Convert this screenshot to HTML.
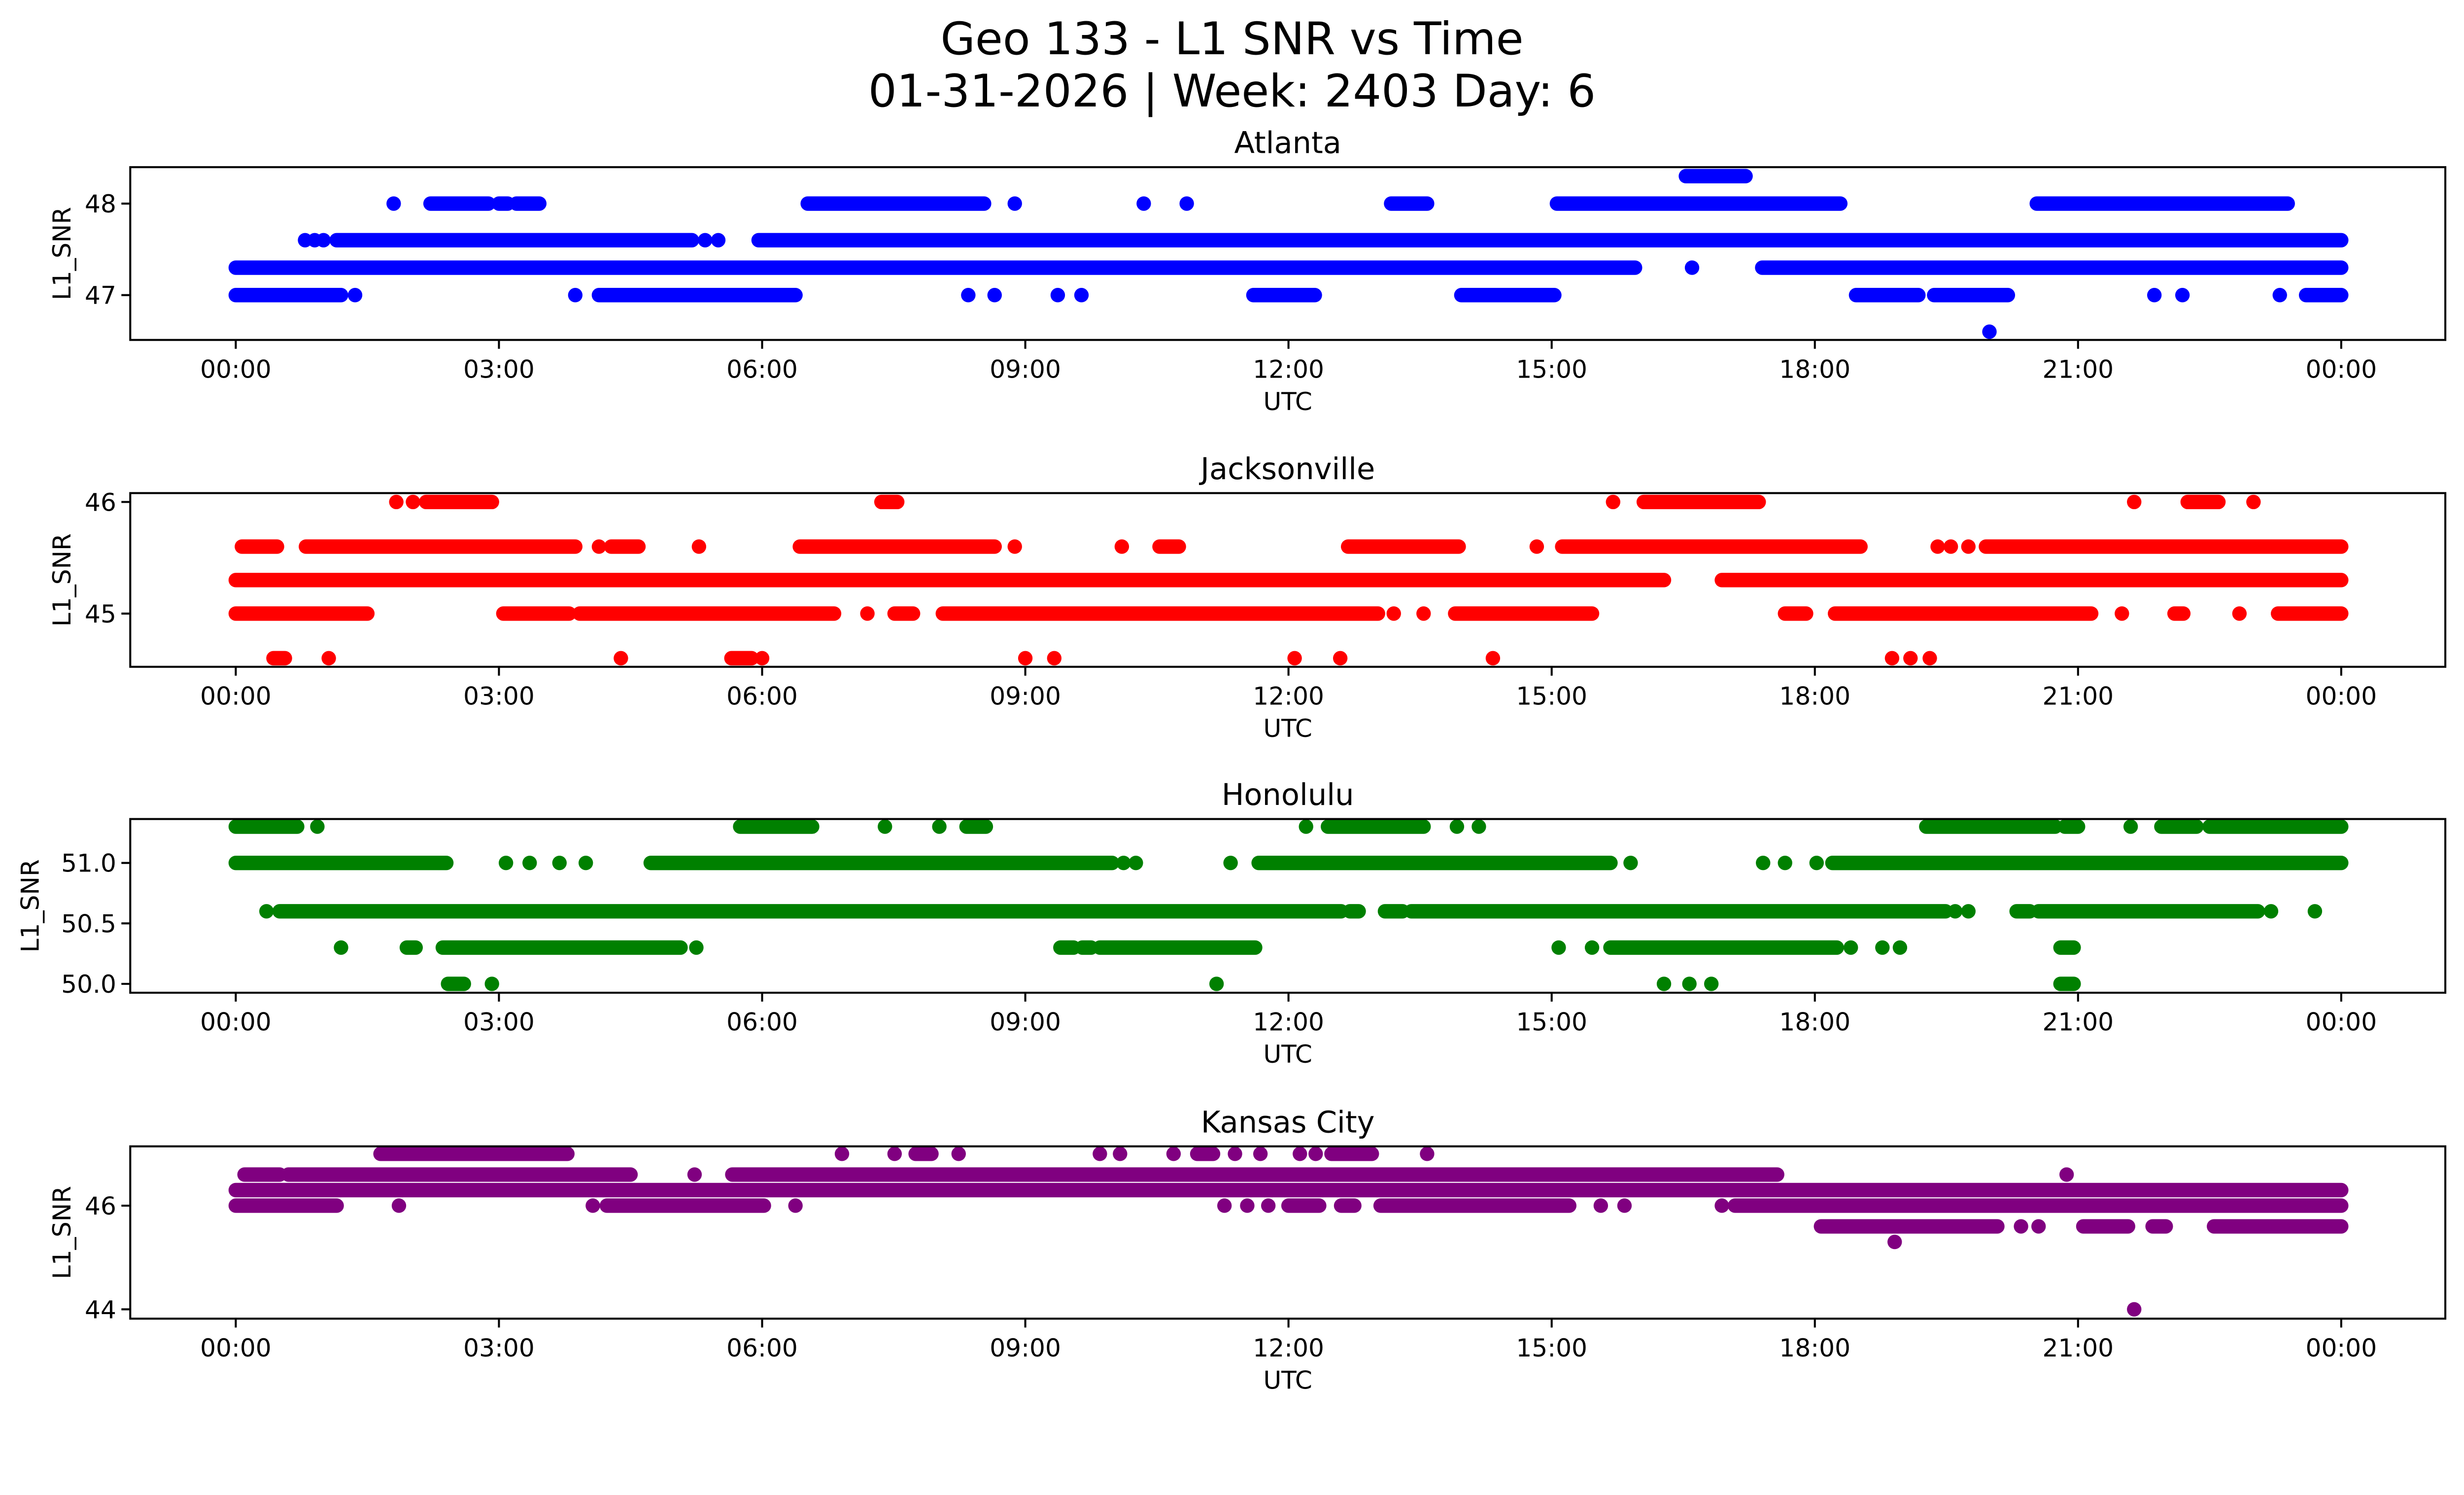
<!DOCTYPE html>
<html><head><meta charset="utf-8">
<style>
html,body{margin:0;padding:0;background:#fff;overflow:hidden;}
svg{display:block;width:100vw;height:auto;font-family:"DejaVu Sans","Liberation Sans",sans-serif;}
</style></head>
<body>
<svg id="chart" viewBox="0 0 5278 3033" xmlns="http://www.w3.org/2000/svg">
<rect width="5278" height="3033" fill="#fff"/>
<text x="2639" y="116" font-size="96" text-anchor="middle">Geo 133 - L1 SNR vs Time</text>
<text x="2639" y="228" font-size="96" text-anchor="middle">01-31-2026 | Week: 2403 Day: 6</text>
<g id="plots"></g>
</svg>
<script>
// x ticks (hours)
const xTickHours = [0,3,6,9,12,15,18,21,24];
const xTickLabels = ["00:00","03:00","06:00","09:00","12:00","15:00","18:00","21:00","00:00"];

// Atlanta: runs of [startHour, endHour] per SNR level
const atlLevels = [47.0, 47.3, 47.6, 48.0, 48.3, 46.6];
const atlRuns = [
 [[0,1.2],[1.36,1.36],[3.87,3.87],[4.14,6.38],[8.35,8.35],[8.65,8.65],[9.37,9.37],[9.64,9.64],[11.6,12.3],[13.97,15.03],[18.47,19.18],[19.36,20.2],[21.87,21.87],[22.19,22.19],[23.3,23.3],[23.6,24]],
 [[0,15.95],[16.6,16.6],[17.4,24]],
 [[0.79,0.79],[0.9,0.9],[1.0,1.0],[1.15,5.2],[5.35,5.35],[5.5,5.5],[5.96,24]],
 [[1.8,1.8],[2.22,2.88],[3.0,3.1],[3.2,3.46],[6.52,8.53],[8.88,8.88],[10.35,10.35],[10.84,10.84],[13.17,13.58],[15.06,18.29],[20.53,23.39]],
 [[16.53,17.21]],
 [[19.99,19.99]]
];
// Jacksonville
const jaxLevels = [45.3, 45.6, 45.0, 46.0, 44.6];
const jaxRuns = [
 [[0,16.28],[16.94,24]],
 [[0.07,0.47],[0.8,3.87],[4.14,4.14],[4.28,4.59],[5.28,5.28],[6.43,8.65],[8.88,8.88],[10.1,10.1],[10.53,10.75],[12.68,13.94],[14.83,14.83],[15.12,18.52],[19.4,19.4],[19.55,19.55],[19.75,19.75],[19.95,24]],
 [[0,1.5],[3.05,3.8],[3.92,6.82],[7.2,7.2],[7.51,7.72],[8.06,13.02],[13.2,13.2],[13.54,13.54],[13.9,15.46],[17.66,17.9],[18.23,21.15],[21.5,21.5],[22.1,22.2],[22.84,22.84],[23.28,24]],
 [[1.83,1.83],[2.02,2.02],[2.17,2.92],[7.36,7.54],[15.7,15.7],[16.05,17.36],[21.64,21.64],[22.25,22.6],[23.0,23.0]],
 [[0.43,0.56],[1.06,1.06],[4.39,4.39],[5.65,5.88],[6.0,6.0],[9.0,9.0],[9.33,9.33],[12.07,12.07],[12.59,12.59],[14.33,14.33],[18.88,18.88],[19.09,19.09],[19.31,19.31]]
];
// Honolulu
const honLevels = [51.3, 51.0, 50.6, 50.3, 50.0];
const honRuns = [
 [[0,0.7],[0.93,0.93],[5.75,6.57],[7.4,7.4],[8.02,8.02],[8.33,8.55],[12.2,12.2],[12.45,13.54],[13.92,13.92],[14.17,14.17],[19.27,20.74],[20.85,21.0],[21.6,21.6],[21.95,22.35],[22.5,24]],
 [[0,2.4],[3.08,3.08],[3.35,3.35],[3.69,3.69],[3.99,3.99],[4.73,9.99],[10.12,10.12],[10.26,10.26],[11.34,11.34],[11.66,15.67],[15.9,15.9],[17.41,17.41],[17.66,17.66],[18.02,18.02],[18.2,24]],
 [[0.35,0.35],[0.5,12.6],[12.7,12.8],[13.1,13.3],[13.4,19.49],[19.6,19.6],[19.75,19.75],[20.3,20.45],[20.55,23.05],[23.2,23.2],[23.7,23.7]],
 [[1.2,1.2],[1.95,2.05],[2.36,5.07],[5.25,5.25],[9.4,9.55],[9.65,9.75],[9.85,11.62],[15.08,15.08],[15.46,15.46],[15.67,18.25],[18.41,18.41],[18.77,18.77],[18.97,18.97],[20.8,20.95]],
 [[2.42,2.6],[2.92,2.92],[11.18,11.18],[16.28,16.28],[16.57,16.57],[16.82,16.82],[20.8,20.95]]
];
// Kansas City
const kcLevels = [46.3, 46.6, 47.0, 46.0, 45.6, 45.3, 44.0];
const kcRuns = [
 [[0,24]],
 [[0.1,0.5],[0.6,4.5],[5.23,5.23],[5.66,17.57],[20.87,20.87]],
 [[1.65,3.78],[6.91,6.91],[7.51,7.51],[7.75,7.93],[8.24,8.24],[9.85,9.85],[10.08,10.08],[10.69,10.69],[10.96,11.14],[11.39,11.39],[11.68,11.68],[12.13,12.13],[12.31,12.31],[12.49,12.95],[13.58,13.58]],
 [[0,1.15],[1.86,1.86],[4.07,4.07],[4.23,6.02],[6.38,6.38],[11.27,11.27],[11.53,11.53],[11.77,11.77],[12.0,12.35],[12.6,12.75],[13.05,15.2],[15.56,15.56],[15.83,15.83],[16.94,16.94],[17.09,24]],
 [[18.07,20.08],[20.35,20.35],[20.55,20.55],[21.06,21.57],[21.85,22.0],[22.55,24]],
 [[18.91,18.91]],
 [[21.64,21.64]]
];
const atlTicks = [47, 48], atlTickLabels = ["47","48"];
const jaxTicks = [45, 46], jaxTickLabels = ["45","46"];
const honTicks = [50.0, 50.5, 51.0], honTickLabels = ["50.0","50.5","51.0"];
const kcTicks = [44, 46], kcTickLabels = ["44","46"];

const NS = "http://www.w3.org/2000/svg";
const LEFT = 279, RIGHT = 5238;
const X0 = 505, X24 = 5015;
function xScale(h){ return X0 + (X24 - X0) * h / 24; }
function mk(tag, attrs, parent){
  const e = document.createElementNS(NS, tag);
  for (const k in attrs) e.setAttribute(k, attrs[k]);
  parent.appendChild(e);
  return e;
}
const panels = [
 {name:"Atlanta", slug:"atlanta", color:"#0000ff", top:358, bottom:728, vA:47, yA:632, vB:48, yB:436, levels:atlLevels, runs:atlRuns, ticks:atlTicks, tl:atlTickLabels},
 {name:"Jacksonville", slug:"jacksonville", color:"#ff0000", top:1056, bottom:1428, vA:45, yA:1314, vB:46, yB:1075, levels:jaxLevels, runs:jaxRuns, ticks:jaxTicks, tl:jaxTickLabels},
 {name:"Honolulu", slug:"honolulu", color:"#008000", top:1754, bottom:2126, vA:50, yA:2107, vB:51, yB:1848, levels:honLevels, runs:honRuns, ticks:honTicks, tl:honTickLabels},
 {name:"Kansas City", slug:"kansas-city", color:"#800080", top:2455, bottom:2824, vA:44, yA:2804, vB:46, yB:2582, levels:kcLevels, runs:kcRuns, ticks:kcTicks, tl:kcTickLabels}
];
const root = document.getElementById("plots");
panels.forEach(p => {
  const yScale = v => p.yA + (v - p.vA) * (p.yB - p.yA) / (p.vB - p.vA);
  const g = mk("g", {}, root);
  
  
  const t = mk("text", {x:(LEFT+RIGHT)/2, y:p.top-30, "font-size":64, "text-anchor":"middle"}, g);
  t.textContent = p.name;
  
  
  const dg = mk("g", {stroke:p.color, "stroke-width":31, "stroke-linecap":"round", fill:"none"}, g);
  
  
  p.levels.forEach((lv, i) => {
    const y = yScale(lv);
    p.runs[i].forEach(r => {
      const l = mk("line", {x1:xScale(r[0]), y1:y, x2:xScale(r[1])+0.01, y2:y}, dg);
      
      
    });
  });
  const fr = mk("rect", {x:LEFT, y:p.top, width:RIGHT-LEFT, height:p.bottom-p.top, fill:"none", stroke:"#000", "stroke-width":4.3}, g);
  
  
  xTickHours.forEach((h, i) => {
    const x = xScale(h);
    const tk = mk("line", {x1:x, y1:p.bottom, x2:x, y2:p.bottom+19, stroke:"#000", "stroke-width":4.3}, g);
    
    
    const tx = mk("text", {x:x, y:p.bottom+81, "font-size":53, "text-anchor":"middle"}, g);
    tx.textContent = xTickLabels[i];
    
    
  });
  const xl = mk("text", {x:(LEFT+RIGHT)/2, y:p.bottom+150, "font-size":53, "text-anchor":"middle"}, g);
  xl.textContent = "UTC";
  
  
  p.ticks.forEach((v, i) => {
    const y = yScale(v);
    const tk = mk("line", {x1:LEFT-19, y1:y, x2:LEFT, y2:y, stroke:"#000", "stroke-width":4.3}, g);
    
    
    const tx = mk("text", {x:LEFT-30, y:y+19, "font-size":53, "text-anchor":"end"}, g);
    tx.textContent = p.tl[i];
    
    
  });
  const maxLen = Math.max(...p.tl.map(s => s.length));
  const ylx = LEFT - 30 - maxLen*34 - 30;
  const yc = (p.top + p.bottom)/2;
  const yl = mk("text", {x:ylx, y:yc, "font-size":53, "text-anchor":"middle", transform:`rotate(-90 ${ylx} ${yc})`}, g);
  yl.textContent = "L1_SNR";
  
  
});
</script>
</body></html>
